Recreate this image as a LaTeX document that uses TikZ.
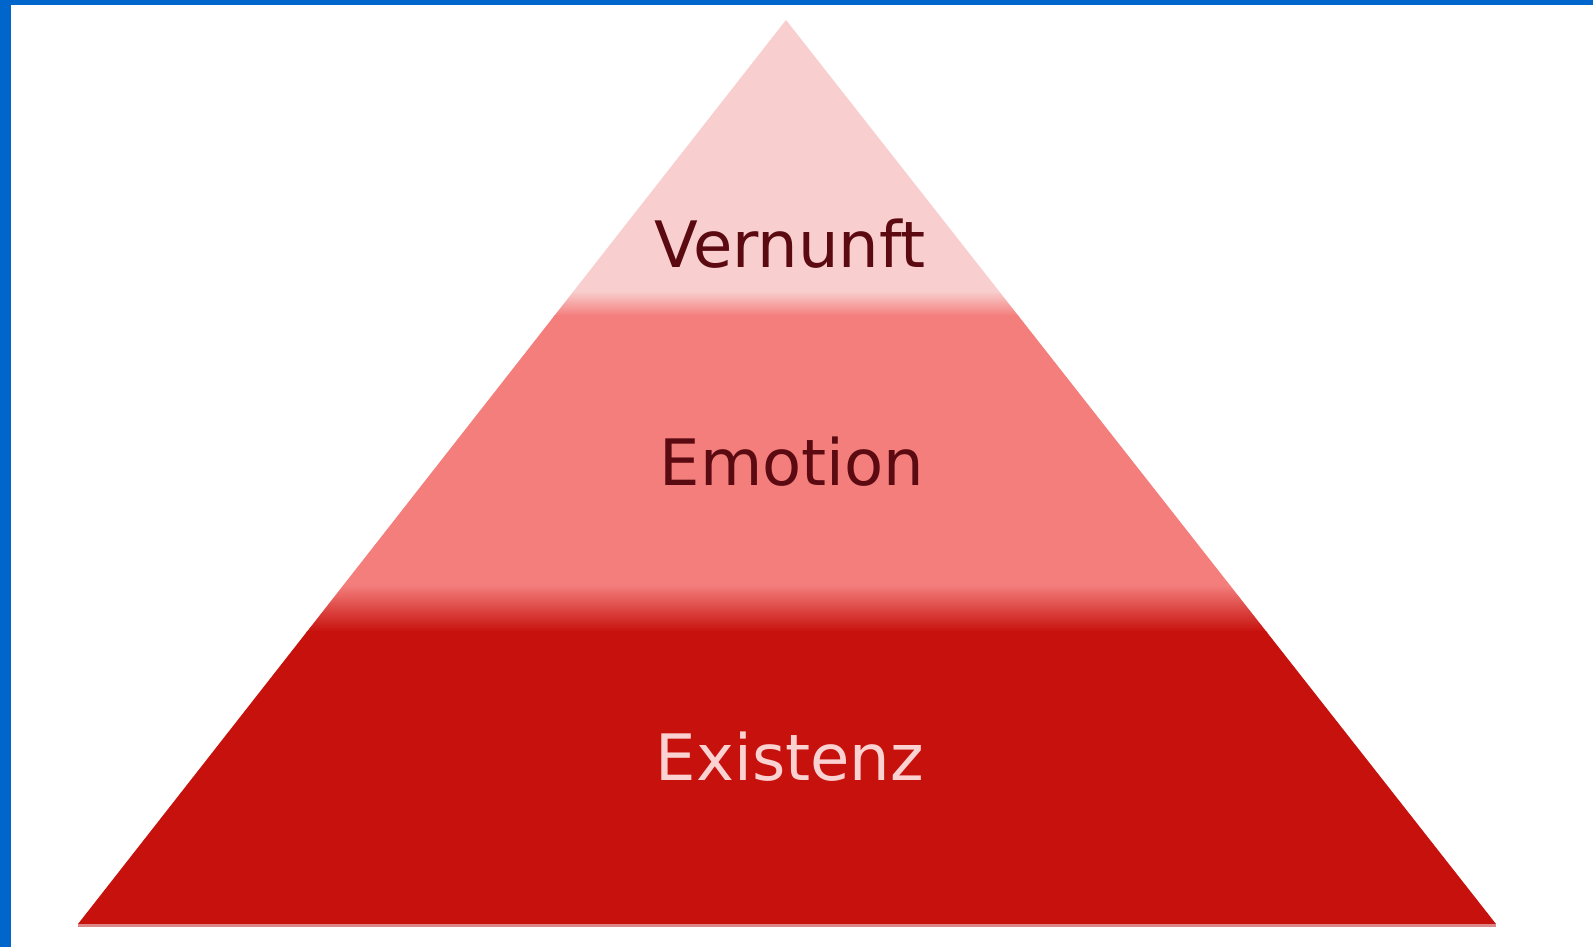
\documentclass[tikz,border=0pt]{standalone}
\usepackage{fontspec}
\setmainfont{DejaVu Sans}
\definecolor{frameblue}{RGB}{0,102,204}
\definecolor{toppink}{RGB}{248,206,206}
\definecolor{midsalmon}{RGB}{243,126,124}
\definecolor{botred}{RGB}{199,17,12}
\definecolor{darktext}{RGB}{90,10,16}
\definecolor{lighttext}{RGB}{250,210,210}
\definecolor{edgepink}{RGB}{220,135,135}
\tikzset{
  label/.style={font=\fontsize{64}{64}\selectfont, inner sep=0pt, anchor=center},
}
\begin{document}
\begin{tikzpicture}[x=1pt,y=-1pt]
\useasboundingbox (0,0) rectangle (1593,947);
\fill[white] (0,0) rectangle (1593,947);
\fill[frameblue] (0,0) rectangle (1593,5);
\fill[frameblue] (0,0) rectangle (11,947);
\coordinate (apex) at (786,20);
\coordinate (bl) at (78,924);
\coordinate (br) at (1496,924);
\coordinate (lineL) at (78,925.5);
\coordinate (lineR) at (1496,925.5);
\begin{scope}
  \clip (apex) -- (br) -- (bl) -- cycle;
  \fill[toppink] (0,0) rectangle (1593,292);
  \shade[top color=toppink, bottom color=midsalmon] (0,291) rectangle (1593,316);
  \fill[midsalmon] (0,315) rectangle (1593,586);
  \shade[top color=midsalmon, bottom color=botred] (0,585) rectangle (1593,632);
  \fill[botred] (0,631) rectangle (1593,930);
\end{scope}
\draw[edgepink, line width=3pt] (lineL) -- (lineR);
\node[label, text=darktext] (vern) at (790,244) {Vernunft};
\node[label, text=darktext] (emot) at (792,462) {Emotion};
\node[label, text=lighttext] (exis) at (790,757) {Existenz};
\end{tikzpicture}
\end{document}
